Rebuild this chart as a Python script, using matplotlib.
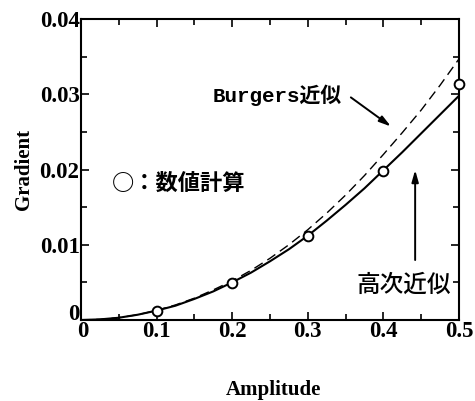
import numpy as np
import matplotlib
matplotlib.use('Agg')
import matplotlib.pyplot as plt
from matplotlib.ticker import MultipleLocator
from matplotlib.transforms import ScaledTranslation

# Data
amp = [0.0, 0.025, 0.05, 0.075, 0.1, 0.125, 0.15, 0.175, 0.2, 0.225, 0.25,
       0.275, 0.3, 0.325, 0.35, 0.375, 0.4, 0.425, 0.45, 0.475, 0.5]
high_order = [0.0, 0.00008, 0.0003, 0.0007, 0.00125, 0.0019, 0.0028, 0.0038,
              0.0050, 0.0063, 0.0078, 0.0094, 0.0112, 0.0132, 0.0153, 0.0175,
              0.0199, 0.0223, 0.0248, 0.0273, 0.0298]
burgers = [0.0, 0.00009, 0.0003, 0.0007, 0.00128, 0.0020, 0.0029, 0.0040,
           0.0052, 0.0066, 0.0082, 0.0100, 0.0120, 0.0142, 0.0166, 0.0192,
           0.0220, 0.0249, 0.0279, 0.0312, 0.0347]
num_amp = [0.1, 0.2, 0.3, 0.4, 0.5]
num_grad = [0.00124, 0.00496, 0.01116, 0.01984, 0.0313]

x_ticks = [0, 0.1, 0.2, 0.3, 0.4, 0.5]
x_labels = ['0', '0.1', '0.2', '0.3', '0.4', '0.5']
y_ticks = [0, 0.01, 0.02, 0.03, 0.04]
y_labels = ['0', '0.01', '0.02', '0.03', '0.04']

serif = 'Liberation Serif'
cjk = ['Noto Sans CJK JP', 'DejaVu Sans']

fig = plt.figure(figsize=(4.75, 4.01), dpi=100)
ax = fig.add_axes([0.1705, 0.2020, 0.7958, 0.7506])

# curves + numerical points
ax.plot(amp, burgers, color='black', lw=1.0, dashes=(7, 4))
ax.plot(amp, high_order, color='black', lw=1.5)
ax.plot(num_amp, num_grad, 'o', ms=7, mfc='white', mec='black', mew=1.4,
        clip_on=False, zorder=5)

ax.set_xlim(0, 0.5)
ax.set_ylim(0, 0.04)
ax.set_xticks(x_ticks)
ax.set_xticklabels(x_labels)
ax.set_yticks(y_ticks)
ax.set_yticklabels(y_labels)
ax.xaxis.set_minor_locator(MultipleLocator(0.05))
ax.yaxis.set_minor_locator(MultipleLocator(0.005))
ax.tick_params(which='both', direction='in', top=True, right=True, width=1.2)
ax.tick_params(which='major', length=6, pad=1)
ax.tick_params(which='minor', length=4)
for lab in ax.get_xticklabels() + ax.get_yticklabels():
    lab.set_fontfamily(serif)
    lab.set_fontweight('bold')
    lab.set_fontsize(16.5)
for sp in ax.spines.values():
    sp.set_linewidth(1.5)

# nudge the two "0" labels at the origin apart a little
y0 = ax.yaxis.get_major_ticks()[0].label1
y0.set_transform(y0.get_transform() + ScaledTranslation(0, 6 / 72, fig.dpi_scale_trans))
x0 = ax.xaxis.get_major_ticks()[0].label1
x0.set_transform(x0.get_transform() + ScaledTranslation(1 / 72, 0, fig.dpi_scale_trans))

ax.set_xlabel('Amplitude', fontfamily=serif, fontweight='bold', fontsize=15)
ax.set_ylabel('Gradient', fontfamily=serif, fontweight='bold', fontsize=15)
ax.xaxis.set_label_coords(0.508, -0.2)
ax.yaxis.set_label_coords(-0.125, 0.5)

# annotations
ax.text(0.1746, 0.0298, 'Burgers近似', family=['Liberation Mono', 'Noto Sans CJK JP'],
        fontweight='bold', fontsize=15, va='center', ha='left')
ax.annotate('', xy=(0.413, 0.0255), xytext=(0.354, 0.0298),
            arrowprops=dict(arrowstyle='-|>,head_length=0.7,head_width=0.2',
                            color='black', lw=1.4))
ax.text(0.041, 0.0182, '○：数値計算', family=cjk, fontweight='bold',
        fontsize=16, va='center', ha='left')
ax.text(0.364, 0.00465, '高次近似', family=cjk, fontweight='medium',
        fontsize=17, va='center', ha='left')
ax.annotate('', xy=(0.442, 0.0203), xytext=(0.442, 0.0076),
            arrowprops=dict(arrowstyle='-|>,head_length=0.7,head_width=0.2',
                            color='black', lw=1.4))

fig.savefig('out.png', dpi=100)
